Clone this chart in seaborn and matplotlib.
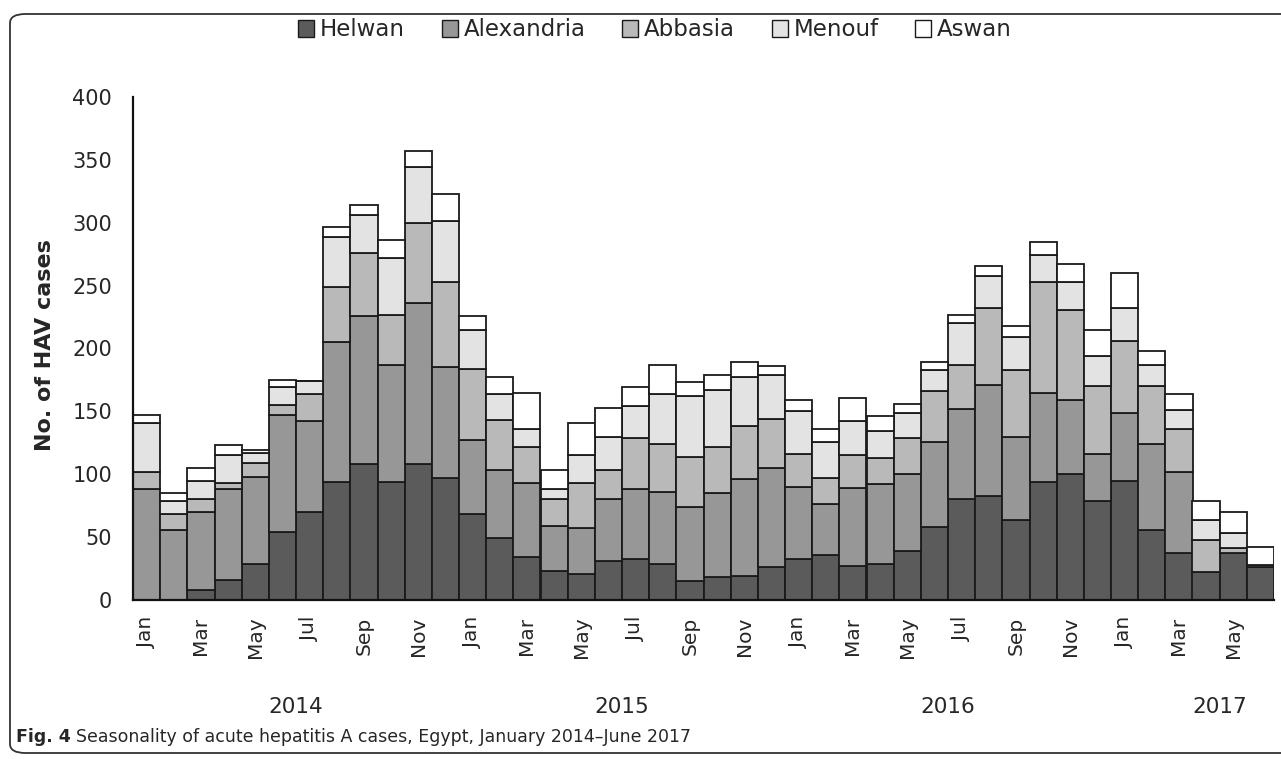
import numpy as np
import pandas as pd
import matplotlib
matplotlib.use('Agg')
import matplotlib.pyplot as plt
import matplotlib.transforms as mtransforms
from matplotlib.patches import Patch, FancyBboxPatch
import seaborn as sns

# monthly HAV cases per sentinel site, Jan 2014 - Jun 2017
months = ['Jan', 'Feb', 'Mar', 'Apr', 'May', 'Jun',
          'Jul', 'Aug', 'Sep', 'Oct', 'Nov', 'Dec'] * 3 + ['Jan', 'Feb', 'Mar', 'Apr', 'May', 'Jun']
years = ['2014'] * 12 + ['2015'] * 12 + ['2016'] * 12 + ['2017'] * 6
sites = ['Helwan', 'Alexandria', 'Abbasia', 'Menouf', 'Aswan']

helwan = [0, 0, 8, 16, 29, 54, 70, 94, 108, 94, 108, 97,
          68, 49, 34, 23, 21, 31, 33, 29, 15, 18, 19, 26,
          33, 36, 27, 29, 39, 58, 80, 83, 64, 94, 100, 79,
          95, 56, 37, 22, 37, 26]
alexandria = [88, 56, 62, 72, 69, 93, 72, 111, 118, 93, 128, 88,
              59, 54, 59, 36, 36, 49, 55, 57, 59, 67, 77, 79,
              57, 40, 62, 63, 61, 68, 72, 88, 66, 71, 59, 37,
              54, 68, 65, 0, 0, 0]
abbasia = [14, 12, 10, 5, 11, 8, 22, 44, 50, 40, 64, 68,
           57, 40, 29, 21, 36, 23, 41, 38, 40, 37, 42, 39,
           26, 21, 26, 21, 29, 40, 35, 61, 53, 88, 72, 54,
           57, 46, 34, 26, 4, 0]
menouf = [39, 11, 15, 22, 8, 14, 10, 40, 30, 45, 44, 48,
          31, 21, 14, 8, 22, 27, 25, 40, 48, 45, 39, 35,
          34, 29, 27, 21, 20, 17, 33, 26, 26, 21, 22, 24,
          26, 17, 15, 16, 12, 2]
aswan = [6, 6, 10, 8, 2, 6, 0, 8, 8, 14, 13, 22,
         11, 13, 29, 15, 26, 23, 15, 23, 11, 12, 12, 7,
         9, 10, 19, 12, 7, 6, 7, 8, 9, 11, 14, 21,
         28, 11, 13, 15, 17, 14]

colors = ['#5b5b5b', '#979797', '#b9b9b9', '#e3e3e3', '#ffffff']

rows = []
for site, vals in zip(sites, [helwan, alexandria, abbasia, menouf, aswan]):
    for i, v in enumerate(vals):
        rows.append({'idx': i, 'site': site, 'cases': v})
df = pd.DataFrame(rows)

sns.set_style('white')
plt.rcParams['font.family'] = ['DejaVu Sans']

fig = plt.figure(figsize=(12.81, 7.59), dpi=100)
ax = fig.add_axes([133 / 1281, 1 - 600 / 759, (1274 - 133) / 1281, 503 / 759])

# histplot stacks the first hue level on top, so feed the sites reversed
sns.histplot(data=df, x='idx', weights='cases', hue='site', hue_order=sites[::-1],
             multiple='stack', discrete=True, shrink=1,
             palette=dict(zip(sites, colors)), edgecolor='#1a1a1a', linewidth=1.3,
             alpha=1, legend=False, ax=ax)

ax.set_xlim(-0.5, len(months) - 0.5)
ax.set_ylim(0, 400)
ax.set_yticks(range(0, 401, 50))
ax.tick_params(axis='y', length=9, width=1.2, direction='out', color='#555555',
               labelsize=15, pad=6)
ax.set_xticks(range(0, len(months), 2))
ax.set_xticklabels(months[::2], rotation=90, fontsize=14.5)
ax.tick_params(axis='x', length=0, pad=12)
ax.set_xlabel('')
ax.set_ylabel('')
for s in ['top', 'right']:
    ax.spines[s].set_visible(False)
for s in ['left', 'bottom']:
    ax.spines[s].set_color('#111111')
    ax.spines[s].set_linewidth(1.6)

fig.text(45 / 1281, 1 - 345 / 759, 'No. of HAV cases', rotation=90, ha='center', va='center',
         fontsize=16, fontweight='bold')

# year labels under their months (2017 sits a bit right of its group)
trans = mtransforms.blended_transform_factory(ax.transData, fig.transFigure)
yr = np.array(years)
for y in ['2014', '2015', '2016', '2017']:
    xc = np.where(yr == y)[0].mean()
    if y == '2017':
        xc += 1.0
    ax.text(xc, 1 - 707 / 759, y, transform=trans, ha='center', va='center', fontsize=15.5)

handles = [Patch(facecolor=c, edgecolor='#1a1a1a', linewidth=1.0) for c in colors]
fig.legend(handles, sites, loc='center', bbox_to_anchor=(655 / 1281, 1 - 30 / 759), ncol=5,
           frameon=False, fontsize=16.5, handlelength=0.7, handleheight=0.7,
           handletextpad=0.25, columnspacing=1.6)

# caption
t1 = fig.text(16 / 1281, 1 - 737 / 759, 'Fig. 4', fontsize=12.5, fontweight='bold',
              va='center', ha='left')
fig.canvas.draw()
bb = t1.get_window_extent()
fig.text((bb.x1 + 5) / 1281, 1 - 737 / 759,
         'Seasonality of acute hepatitis A cases, Egypt, January 2014\u2013June 2017',
         fontsize=12.5, va='center', ha='left')

# rounded frame around the figure
frame = FancyBboxPatch((10 / 1281, 1 - 753 / 759), 1.2, (753 - 14) / 759,
                       boxstyle='round,pad=0,rounding_size=0.012',
                       transform=fig.transFigure, fill=False, edgecolor='#333333',
                       linewidth=1.3, clip_on=False)
fig.patches.append(frame)

fig.savefig('out.png', dpi=100)
